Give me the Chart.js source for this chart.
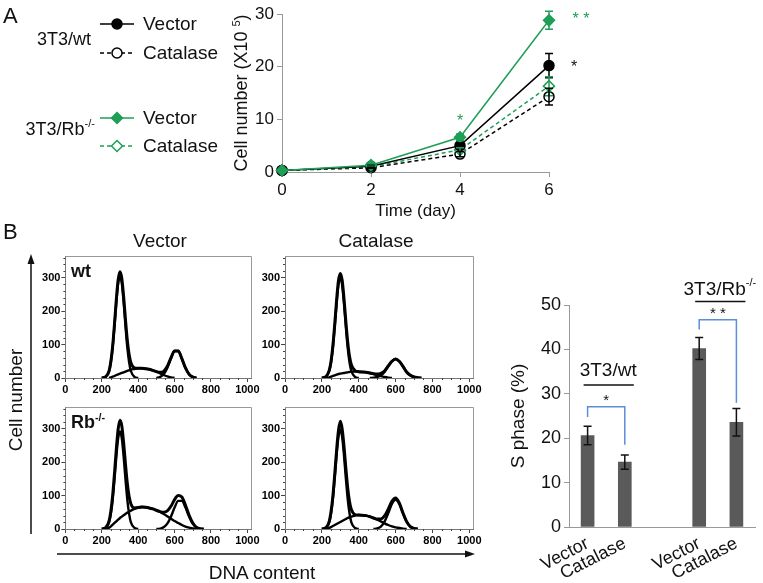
<!DOCTYPE html>
<html lang="en">
<head>
<meta charset="UTF-8">
<title>Catalase - growth and S phase</title>
<script src="https://cdn.jsdelivr.net/npm/chart.js"></script>
<style>
  body { margin: 0; background: #fff; font-family: 'Liberation Sans', Arial, sans-serif; }
  #page { position: relative; width: 763px; height: 583px; overflow: hidden; }
  canvas { position: absolute; }
  .lbl { position: absolute; color: #111; white-space: nowrap; line-height: 1; }
  .c { transform: translate(-50%, -50%); }
  .b { font-weight: bold; }
  sup { font-size: 60%; }
</style>
</head>
<body>
<div id="page">
  <canvas id="growth" width="610" height="225" style="left:0;top:0"></canvas>
  <canvas id="h1" width="235" height="160" style="left:30px;top:246px"></canvas>
  <canvas id="h2" width="237" height="160" style="left:250px;top:246px"></canvas>
  <canvas id="h3" width="235" height="160" style="left:30px;top:397px"></canvas>
  <canvas id="h4" width="237" height="160" style="left:250px;top:397px"></canvas>
  <canvas id="sphase" width="263" height="333" style="left:500px;top:250px"></canvas>

  <svg width="763" height="583" style="position:absolute;left:0;top:0;pointer-events:none">
    <line x1="31" y1="534" x2="31" y2="262" stroke="#111" stroke-width="1.5"/>
    <polygon points="31,254 27.5,264 34.5,264" fill="#111"/>
    <line x1="57" y1="554" x2="466" y2="554" stroke="#111" stroke-width="1.5"/>
    <polygon points="475,554 465,550.5 465,557.5" fill="#111"/>
  </svg>

  <div class="lbl" style="left:3px;top:5px;font-size:22px">A</div>
  <div class="lbl" style="left:3px;top:221px;font-size:22px">B</div>
  <div class="lbl c" style="left:160px;top:240px;font-size:19px">Vector</div>
  <div class="lbl c" style="left:376px;top:240px;font-size:19px">Catalase</div>
  <div class="lbl b" style="left:71px;top:262px;font-size:18px">wt</div>
  <div class="lbl b" style="left:71px;top:412px;font-size:18px">Rb<sup>-/-</sup></div>
  <div class="lbl c" style="left:15px;top:400px;font-size:19px;transform:translate(-50%,-50%) rotate(-90deg)">Cell number</div>
  <div class="lbl c" style="left:262px;top:572px;font-size:19px">DNA content</div>
</div>

<script>
// ---------- panel A: cell growth ----------
const days = [0, 2, 4, 6];
const wtVector = [0.3, 1.1, 5.0, 20.2];
const wtVectorErr = [0, 0.2, 0.5, 2.3];
const wtCatalase = [0.3, 0.8, 3.4, 14.3];
const wtCatalaseErr = [0, 0.1, 0.5, 1.6];
const rbVector = [0.3, 1.3, 6.6, 28.8];
const rbVectorErr = [0, 0.2, 0.6, 1.7];
const rbCatalase = [0.3, 1.0, 4.2, 16.3];
const rbCatalaseErr = [0, 0.1, 0.4, 1.8];

// ---------- panel B: DNA histograms ----------
const dna = [200, 220, 240, 250, 260, 270, 280, 290, 300, 310, 320, 330, 340, 350, 360, 380, 400, 420, 440,
             460, 480, 500, 520, 540, 560, 580, 600, 620, 640, 660, 680, 700, 720, 740, 760, 780, 800];
const _ = null;

const wtVecTotal = [0, 3, 21, 50, 97, 163, 236, 294, 318, 298, 244, 176, 114, 71, 46, 30, 29, 29, 28, 26, 23, 19, 17, 20, 35, 60, 81, 81, 58, 30, 11, 3, 0, _, _, _, _];
const wtVecG1 = [0, 3, 21, 48, 93, 157, 227, 283, 305, 283, 227, 157, 93, 48, 21, 3, 0, _, _, _, _, _, _, _, _, _, _, _, _, _, _, _, _, _, _, _, _];
const wtVecS = [_, _, 0, 2, 4, 6, 9, 11, 13, 15, 17, 19, 21, 23, 25, 27, 29, 29, 28, 26, 23, 19, 14, 9, 5, 2, 0, _, _, _, _, _, _, _, _, _, _];
const wtVecG2 = [_, _, _, _, _, _, _, _, _, _, _, _, _, _, _, _, _, _, _, _, _, 0, 3, 11, 30, 58, 81, 81, 58, 30, 11, 3, 0, _, _, _, _];

const wtCatTotal = [0, 3, 23, 51, 98, 162, 233, 291, 313, 293, 238, 170, 109, 65, 40, 22, 19, 18, 17, 15, 13, 12, 14, 21, 36, 50, 57, 50, 35, 18, 8, 3, 1, 0, _, _, _];
const wtCatG1 = [0, 3, 21, 47, 92, 154, 223, 279, 300, 279, 223, 154, 92, 47, 21, 3, 0, _, _, _, _, _, _, _, _, _, _, _, _, _, _, _, _, _, _, _, _];
const wtCatS = [_, 0, 2, 4, 6, 8, 10, 12, 13, 14, 15, 16, 17, 18, 19, 19, 19, 18, 17, 15, 12, 9, 6, 3, 1, 0, _, _, _, _, _, _, _, _, _, _, _];
const wtCatG2 = [_, _, _, _, _, _, _, _, _, _, _, _, _, _, _, _, _, _, _, 0, 1, 3, 8, 18, 35, 50, 57, 50, 35, 18, 8, 3, 1, 0, _, _, _];

const rbVecTotal = [0, 3, 24, 54, 102, 168, 240, 299, 325, 308, 258, 195, 138, 98, 75, 63, 64, 66, 65, 63, 60, 56, 52, 50, 54, 68, 88, 100, 96, 71, 41, 18, 5, 1, 0, _, _];
const rbVecG1 = [0, 3, 20, 46, 89, 150, 217, 271, 292, 271, 217, 150, 89, 46, 20, 3, 0, _, _, _, _, _, _, _, _, _, _, _, _, _, _, _, _, _, _, _, _];
const rbVecS = [_, 0, 4, 8, 13, 18, 23, 28, 33, 37, 41, 45, 49, 52, 55, 60, 64, 66, 65, 63, 60, 56, 51, 45, 38, 31, 24, 18, 12, 7, 4, 2, 0, _, _, _, _];
const rbVecG2 = [_, _, _, _, _, _, _, _, _, _, _, _, _, _, _, _, _, _, _, _, _, 0, 1, 5, 16, 37, 64, 84, 84, 64, 37, 16, 5, 1, 0, _, _];

const rbCatTotal = [0, 3, 23, 53, 100, 165, 236, 294, 322, 300, 248, 183, 124, 82, 58, 43, 42, 41, 40, 37, 33, 30, 30, 39, 59, 83, 93, 78, 48, 22, 7, 2, 0, _, _, _, _];
const rbCatG1 = [0, 3, 20, 47, 91, 153, 221, 276, 297, 276, 221, 153, 91, 47, 20, 3, 0, _, _, _, _, _, _, _, _, _, _, _, _, _, _, _, _, _, _, _, _];
const rbCatS = [_, 0, 3, 6, 9, 12, 15, 18, 21, 24, 27, 30, 33, 35, 37, 40, 42, 41, 40, 37, 33, 28, 23, 17, 12, 8, 5, 3, 1, 0, _, _, _, _, _, _, _];
const rbCatG2 = [_, _, _, _, _, _, _, _, _, _, _, _, _, _, _, _, _, _, _, _, 0, 2, 7, 22, 47, 75, 87, 75, 47, 22, 7, 2, 0, _, _, _, _];

const histXTicks = [0, 200, 400, 600, 800, 1000];
const histYTicks = [0, 100, 200, 300];

// ---------- panel B: S phase bars ----------
const barLabels = ['Vector', 'Catalase', '', 'Vector', 'Catalase'];
const sPhase = [20.6, 14.6, null, 40.2, 23.6];
const sPhaseErr = [2.1, 1.6, null, 2.5, 3.1];

const GREEN = '#1f9e57';
const FONT = "'Liberation Sans', Arial, sans-serif";
Chart.defaults.font.family = FONT;
Chart.defaults.color = '#111';

const pts = (xs, ys) => xs.map((x, i) => ({ x: x, y: ys[i] }));

// ---------------- growth curve ----------------
function marker(ctx, style, x, y, r, color, filled) {
  ctx.save();
  ctx.lineWidth = 1.5;
  ctx.strokeStyle = color;
  ctx.fillStyle = filled ? color : '#fff';
  ctx.beginPath();
  if (style === 'circle') {
    ctx.arc(x, y, r, 0, Math.PI * 2);
  } else {
    ctx.moveTo(x, y - r); ctx.lineTo(x + r, y); ctx.lineTo(x, y + r); ctx.lineTo(x - r, y); ctx.closePath();
  }
  ctx.fill(); ctx.stroke();
  ctx.restore();
}

const growthExtras = {
  id: 'growthExtras',
  afterDatasetsDraw(chart) {
    const { ctx, scales: { x, y } } = chart;
    ctx.save();
    // error bars
    chart.data.datasets.forEach((ds, i) => {
      const meta = chart.getDatasetMeta(i);
      ds.err.forEach((e, j) => {
        if (!e) return;
        const px = meta.data[j].x;
        const top = y.getPixelForValue(ds.data[j].y + e);
        const bot = y.getPixelForValue(ds.data[j].y - e);
        ctx.strokeStyle = ds.borderColor;
        ctx.lineWidth = 1.5;
        ctx.setLineDash([]);
        ctx.beginPath();
        ctx.moveTo(px, top); ctx.lineTo(px, bot);
        ctx.moveTo(px - 4, top); ctx.lineTo(px + 4, top);
        ctx.moveTo(px - 4, bot); ctx.lineTo(px + 4, bot);
        ctx.stroke();
      });
    });
    // significance marks
    ctx.font = '16px ' + FONT;
    ctx.textAlign = 'center';
    ctx.textBaseline = 'middle';
    ctx.fillStyle = GREEN;
    ctx.fillText('*', x.getPixelForValue(4), y.getPixelForValue(9.6));
    ctx.fillText('* *', x.getPixelForValue(6) + 32, y.getPixelForValue(29));
    ctx.fillStyle = '#111';
    ctx.fillText('*', x.getPixelForValue(6) + 25, y.getPixelForValue(19.8));

    // y title with superscript
    ctx.save();
    ctx.translate(241, (y.top + y.bottom) / 2);
    ctx.rotate(-Math.PI / 2);
    ctx.fillStyle = '#111';
    ctx.textAlign = 'left';
    ctx.textBaseline = 'alphabetic';
    const a = 'Cell number (X10 ', c = ')';
    ctx.font = '11px ' + FONT; const wb = ctx.measureText('5').width;
    ctx.font = '18px ' + FONT;
    const wa = ctx.measureText(a).width, wc = ctx.measureText(c).width;
    const sx = -(wa + wb + wc) / 2;
    ctx.fillText(a, sx, 6);
    ctx.font = '11px ' + FONT; ctx.fillText('5', sx + wa, -1);
    ctx.font = '18px ' + FONT; ctx.fillText(c, sx + wa + wb, 6);
    ctx.restore();

    // legend
    const rows = [
      { y: 24, color: '#000', dash: [], style: 'circle', filled: true, text: 'Vector' },
      { y: 53, color: '#000', dash: [4, 3], style: 'circle', filled: false, text: 'Catalase' },
      { y: 118, color: GREEN, dash: [], style: 'diamond', filled: true, text: 'Vector' },
      { y: 146, color: GREEN, dash: [4, 3], style: 'diamond', filled: false, text: 'Catalase' }
    ];
    rows.forEach(r => {
      ctx.strokeStyle = r.color;
      ctx.lineWidth = 1.5;
      ctx.setLineDash(r.dash);
      ctx.beginPath(); ctx.moveTo(100, r.y); ctx.lineTo(134, r.y); ctx.stroke();
      ctx.setLineDash([]);
      marker(ctx, r.style, 117, r.y, r.style === 'circle' ? 5 : 5.5, r.color, r.filled);
      ctx.fillStyle = '#111';
      ctx.font = '19px ' + FONT;
      ctx.textAlign = 'left';
      ctx.textBaseline = 'middle';
      ctx.fillText(r.text, 143, r.y + 1);
    });
    ctx.font = '18px ' + FONT;
    ctx.textAlign = 'right';
    ctx.fillText('3T3/wt', 91, 40);
    ctx.font = '11px ' + FONT;
    const sw = ctx.measureText('-/-').width;
    ctx.fillText('-/-', 95, 124);
    ctx.font = '18px ' + FONT;
    ctx.fillText('3T3/Rb', 95 - sw, 130);
    ctx.restore();
  }
};

const lineSet = (label, vals, errs, color, dash, style, filled) => ({
  label: label,
  data: pts(days, vals),
  err: errs,
  borderColor: color,
  backgroundColor: filled ? color : '#fff',
  borderWidth: 1.5,
  borderDash: dash,
  pointStyle: style,
  pointRadius: style === 'circle' ? 5 : 5.5,
  pointBorderWidth: 1.5,
  pointBorderColor: color,
  pointBackgroundColor: filled ? color : '#fff',
  tension: 0,
  clip: false
});

new Chart(document.getElementById('growth'), {
  type: 'line',
  data: {
    datasets: [
      lineSet('3T3/Rb Vector', rbVector, rbVectorErr, GREEN, [], 'rectRot', true),
      lineSet('3T3/wt Vector', wtVector, wtVectorErr, '#000', [], 'circle', true),
      lineSet('3T3/Rb Catalase', rbCatalase, rbCatalaseErr, GREEN, [4, 3], 'rectRot', false),
      lineSet('3T3/wt Catalase', wtCatalase, wtCatalaseErr, '#000', [4, 3], 'circle', false)
    ]
  },
  options: {
    responsive: false,
    animation: false,
    layout: { padding: { left: 252, top: 14, right: 61, bottom: 0 } },
    plugins: { legend: { display: false }, tooltip: { enabled: false } },
    scales: {
      x: {
        type: 'linear', min: 0, max: 6,
        ticks: { stepSize: 2, font: { size: 17 }, color: '#111', padding: 3 },
        grid: { drawOnChartArea: false, tickLength: 5, color: '#999' },
        border: { color: '#999' },
        title: { display: true, text: 'Time (day)', font: { size: 17 }, color: '#111', padding: { top: 2, bottom: 3 } },
        afterFit: s => { s.height = 53; }
      },
      y: {
        min: 0, max: 30,
        ticks: { stepSize: 10, font: { size: 17 }, color: '#111', padding: 3 },
        grid: { drawOnChartArea: false, tickLength: 5, color: '#999' },
        border: { color: '#999' },
        afterFit: s => { s.width = 30; }
      }
    }
  },
  plugins: [growthExtras]
});

// ---------------- DNA histograms ----------------
const boxPlugin = {
  id: 'box',
  afterDraw(chart) {
    const { ctx, chartArea: a, scales: { x, y } } = chart;
    ctx.save();
    ctx.strokeStyle = '#999';
    ctx.lineWidth = 1;
    ctx.beginPath();
    ctx.moveTo(a.left, a.top + 0.5); ctx.lineTo(a.right + 0.5, a.top + 0.5); ctx.lineTo(a.right + 0.5, a.bottom);
    ctx.stroke();
    // minor ticks
    ctx.strokeStyle = '#444';
    ctx.beginPath();
    for (let v = 50; v < 1020; v += 50) {
      if (v % 200 === 0) continue;
      const px = Math.round(x.getPixelForValue(v)) + 0.5;
      ctx.moveTo(px, a.bottom); ctx.lineTo(px, a.bottom + 2);
    }
    for (let v = 20; v < 365; v += 20) {
      if (v % 100 === 0) continue;
      const py = Math.round(y.getPixelForValue(v)) + 0.5;
      ctx.moveTo(a.left, py); ctx.lineTo(a.left - 2, py);
    }
    ctx.stroke();
    ctx.restore();
  }
};

function histChart(id, total, g1, s, g2, yWidth) {
  const curve = (vals, w) => ({
    data: pts(dna, vals),
    borderColor: '#000',
    borderWidth: w,
    pointRadius: 0,
    fill: false,
    spanGaps: false,
    cubicInterpolationMode: 'monotone'
  });
  return new Chart(document.getElementById(id), {
    type: 'line',
    data: { datasets: [curve(total, 3), curve(g1, 2.4), curve(s, 2.4), curve(g2, 2.4)] },
    options: {
      responsive: false,
      animation: false,
      layout: { padding: { top: 10, right: 14, left: 0, bottom: 0 } },
      plugins: { legend: { display: false }, tooltip: { enabled: false } },
      scales: {
        x: {
          type: 'linear', min: 0, max: 1020,
          afterBuildTicks: sc => { sc.ticks = histXTicks.map(v => ({ value: v })); },
          ticks: { font: { size: 11, weight: 'bold' }, color: '#000', maxRotation: 0, padding: 1, callback: v => String(v) },
          grid: { drawOnChartArea: false, tickLength: 4, color: '#444' },
          border: { color: '#777' },
          afterFit: sc => { sc.height = 28; }
        },
        y: {
          min: 0, max: 365,
          afterBuildTicks: sc => { sc.ticks = histYTicks.map(v => ({ value: v })); },
          ticks: { font: { size: 11, weight: 'bold' }, color: '#000', padding: 1, callback: v => String(v) },
          grid: { drawOnChartArea: false, tickLength: 4, color: '#444' },
          border: { color: '#777' },
          afterFit: sc => { sc.width = yWidth; }
        }
      }
    },
    plugins: [boxPlugin]
  });
}

histChart('h1', wtVecTotal, wtVecG1, wtVecS, wtVecG2, 35.4);
histChart('h2', wtCatTotal, wtCatG1, wtCatS, wtCatG2, 35);
histChart('h3', rbVecTotal, rbVecG1, rbVecS, rbVecG2, 35.4);
histChart('h4', rbCatTotal, rbCatG1, rbCatS, rbCatG2, 35);

// ---------------- S phase bars ----------------
const BLUE = '#5b8fd8';
const barExtras = {
  id: 'barExtras',
  afterDatasetsDraw(chart) {
    const { ctx, scales: { x, y } } = chart;
    const ds = chart.data.datasets[0];
    const meta = chart.getDatasetMeta(0);
    ctx.save();
    ctx.strokeStyle = '#111';
    ctx.lineWidth = 1.5;
    ds.err.forEach((e, j) => {
      if (e == null) return;
      const px = meta.data[j].x;
      const top = y.getPixelForValue(ds.data[j] + e);
      const bot = y.getPixelForValue(ds.data[j] - e);
      ctx.beginPath();
      ctx.moveTo(px, top); ctx.lineTo(px, bot);
      ctx.moveTo(px - 4, top); ctx.lineTo(px + 4, top);
      ctx.moveTo(px - 4, bot); ctx.lineTo(px + 4, bot);
      ctx.stroke();
    });

    const groups = [
      { a: 0, b: 1, text: '3T3/wt', sup: '', textY: 35.2, lineY: 32, left: 24.8, top: 27.1, right: 18.5, star: '*' },
      { a: 3, b: 4, text: '3T3/Rb', sup: '-/-', textY: 53.5, lineY: 50.8, left: 44.5, top: 46.7, right: 28, star: '* *' }
    ];
    groups.forEach(g => {
      const xa = meta.data[g.a].x, xb = meta.data[g.b].x;
      // group line and label
      ctx.strokeStyle = '#111';
      ctx.lineWidth = 1.5;
      ctx.beginPath();
      ctx.moveTo(xa - 4, y.getPixelForValue(g.lineY));
      ctx.lineTo(xb + 9, y.getPixelForValue(g.lineY));
      ctx.stroke();
      ctx.fillStyle = '#111';
      ctx.textBaseline = 'middle';
      ctx.font = '19px ' + FONT;
      const tw = ctx.measureText(g.text).width;
      ctx.font = '11px ' + FONT;
      const sw = g.sup ? ctx.measureText(g.sup).width : 0;
      const cx = (xa + xb) / 2 + 2;
      const sx = cx - (tw + sw) / 2;
      ctx.textAlign = 'left';
      ctx.font = '19px ' + FONT;
      ctx.fillText(g.text, sx, y.getPixelForValue(g.textY));
      if (g.sup) {
        ctx.font = '11px ' + FONT;
        ctx.fillText(g.sup, sx + tw, y.getPixelForValue(g.textY) - 6);
      }
      // significance bracket
      ctx.strokeStyle = BLUE;
      ctx.lineWidth = 1.5;
      ctx.beginPath();
      ctx.moveTo(xa, y.getPixelForValue(g.left));
      ctx.lineTo(xa, y.getPixelForValue(g.top));
      ctx.lineTo(xb, y.getPixelForValue(g.top));
      ctx.lineTo(xb, y.getPixelForValue(g.right));
      ctx.stroke();
      ctx.fillStyle = '#111';
      ctx.font = '15px ' + FONT;
      ctx.textAlign = 'center';
      ctx.fillText(g.star, (xa + xb) / 2, y.getPixelForValue(g.top) - 6);
    });
    ctx.restore();
  }
};

new Chart(document.getElementById('sphase'), {
  type: 'bar',
  data: {
    labels: barLabels,
    datasets: [{ data: sPhase, err: sPhaseErr, backgroundColor: '#5a5a5a', barThickness: 13 }]
  },
  options: {
    responsive: false,
    animation: false,
    layout: { padding: { top: 55, right: 8, left: 0, bottom: 0 } },
    plugins: { legend: { display: false }, tooltip: { enabled: false } },
    scales: {
      x: {
        offset: true,
        grid: { display: false, drawTicks: false },
        border: { color: '#999' },
        ticks: { minRotation: 27, maxRotation: 27, autoSkip: false, font: { size: 18 }, color: '#111', padding: 6 },
        afterFit: s => { s.height = 56; }
      },
      y: {
        min: 0, max: 50,
        ticks: { stepSize: 10, font: { size: 18 }, color: '#111', padding: 3 },
        grid: { drawOnChartArea: false, tickLength: 5, color: '#999' },
        border: { color: '#999' },
        title: { display: true, text: 'S phase (%)', font: { size: 19 }, color: '#111', padding: { top: 7, bottom: 0 } },
        afterFit: s => { s.width = 69; }
      }
    }
  },
  plugins: [barExtras]
});
</script>
</body>
</html>
